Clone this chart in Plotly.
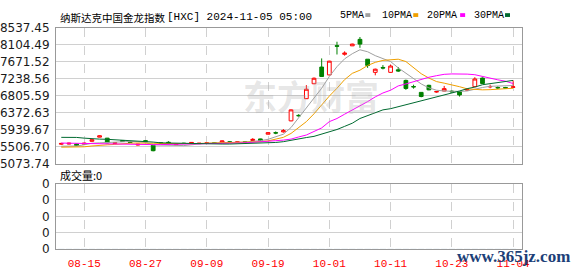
import plotly.graph_objects as go

# ---------------- data ----------------
dates = ["08-12", "08-13", "08-14", "08-15", "08-16", "08-19", "08-20", "08-21", "08-22", "08-23",
         "08-26", "08-27", "08-28", "08-29", "08-30", "09-03", "09-04", "09-05", "09-06", "09-09",
         "09-10", "09-11", "09-12", "09-13", "09-16", "09-17", "09-18", "09-19", "09-20", "09-23",
         "09-24", "09-25", "09-26", "09-27", "09-30", "10-01", "10-02", "10-03", "10-04", "10-07",
         "10-08", "10-09", "10-10", "10-11", "10-14", "10-15", "10-16", "10-17", "10-18", "10-21",
         "10-22", "10-23", "10-24", "10-25", "10-28", "10-29", "10-30", "10-31", "11-01", "11-04"]

opens = [5575, 5580, 5580, 5575, 5650, 5755, 5730, 5595, 5670, 5630,
         5555, 5665, 5550, 5610, 5625, 5560, 5600, 5600, 5590, 5600,
         5615, 5625, 5640, 5625, 5640, 5670, 5710, 5830, 5870, 5890,
         6170, 6310, 6735, 7115, 7540, 7340, 8085, 7865, 8080, 8245,
         7740, 7405, 7530, 7405, 7470, 7200, 7045, 6895, 7075, 6905,
         6930, 6925, 6915, 6955, 7040, 7260, 7035, 7020, 7020, 7025]
highs = [5610, 5615, 5590, 5610, 5695, 5800, 5735, 5625, 5680, 5640,
         5585, 5680, 5555, 5615, 5650, 5585, 5610, 5630, 5605, 5625,
         5630, 5670, 5655, 5640, 5650, 5730, 5715, 5875, 5900, 5960,
         6460, 6340, 7080, 7275, 7760, 7700, 8185, 7940, 8135, 8305,
         7745, 7500, 7590, 7600, 7540, 7220, 7090, 6900, 7090, 6930,
         7060, 6950, 6930, 7000, 7280, 7275, 7090, 7050, 7035, 7200]
lows = [5560, 5570, 5530, 5565, 5640, 5750, 5600, 5580, 5640, 5610,
        5545, 5645, 5395, 5595, 5610, 5550, 5590, 5590, 5585, 5590,
        5600, 5620, 5610, 5620, 5620, 5660, 5660, 5825, 5830, 5870,
        6160, 6280, 6730, 7105, 7290, 7330, 7860, 7830, 8075, 8030,
        7520, 7330, 7480, 7400, 7420, 6960, 6990, 6770, 6950, 6890,
        6925, 6890, 6790, 6945, 7035, 7110, 7000, 6980, 6995, 7020]
closes = [5595, 5600, 5540, 5600, 5690, 5790, 5610, 5615, 5645, 5620,
          5575, 5650, 5410, 5600, 5615, 5575, 5595, 5620, 5600, 5610,
          5605, 5660, 5620, 5635, 5625, 5700, 5665, 5870, 5860, 5920,
          6450, 6300, 6975, 7255, 7300, 7690, 8070, 7895, 8125, 8125,
          7580, 7485, 7515, 7565, 7440, 6995, 7035, 6790, 6960, 6915,
          6990, 6910, 6830, 6965, 7235, 7120, 7045, 7010, 7005, 7035]

ma5 = [5525, 5525, 5530, 5560, 5600, 5610, 5620, 5640, 5650, 5645,
       5640, 5620, 5560, 5550, 5550, 5545, 5540, 5560, 5590, 5600,
       5605, 5610, 5615, 5625, 5630, 5650, 5665, 5700, 5760, 5830,
       6000, 6250, 6480, 6720, 7000, 7300, 7550, 7750, 7880, 7980,
       7930, 7830, 7750, 7680, 7520, 7380, 7240, 7110, 7010, 6950,
       6930, 6920, 6920, 6930, 6980, 7020, 7050, 7055, 7060, 7070]
ma10 = [5500, 5500, 5505, 5510, 5530, 5550, 5560, 5570, 5590, 5600,
        5605, 5610, 5600, 5595, 5590, 5585, 5585, 5590, 5595, 5600,
        5600, 5600, 5605, 5610, 5615, 5625, 5640, 5660, 5700, 5750,
        5850, 5990, 6150, 6350, 6580, 6800, 7000, 7220, 7380, 7460,
        7580, 7660, 7710, 7730, 7740, 7680, 7520, 7370, 7260, 7170,
        7130, 7090, 7040, 6985, 6965, 6960, 6965, 6975, 6990, 7000]
ma20 = [5605, 5600, 5595, 5590, 5585, 5580, 5575, 5570, 5570, 5568,
        5566, 5565, 5565, 5566, 5568, 5570, 5572, 5575, 5580, 5585,
        5590, 5595, 5600, 5605, 5610, 5620, 5635, 5650, 5665, 5680,
        5705, 5760, 5810, 5900, 5990, 6150, 6230, 6340, 6440, 6560,
        6660, 6780, 6880, 6950, 7060, 7110, 7170, 7220, 7280, 7320,
        7355, 7365, 7365, 7360, 7345, 7300, 7250, 7215, 7180, 7120]
ma30 = [5750, 5750, 5748, 5730, 5710, 5705, 5700, 5690, 5675, 5670,
        5665, 5655, 5630, 5610, 5605, 5600, 5595, 5585, 5580, 5580,
        5580, 5580, 5580, 5585, 5595, 5605, 5610, 5615, 5620, 5640,
        5680, 5720, 5745, 5775, 5830, 5890, 5950, 6030, 6110, 6230,
        6300, 6390, 6450, 6480, 6530, 6570, 6630, 6680, 6730, 6775,
        6820, 6870, 6930, 6990, 7030, 7090, 7120, 7150, 7175, 7200]

volume = [0, 0, 0, 0, 0, 0, 0, 0, 0, 0, 0, 0, 0, 0, 0, 0, 0, 0, 0, 0,
          0, 0, 0, 0, 0, 0, 0, 0, 0, 0, 0, 0, 0, 0, 0, 0, 0, 0, 0, 0,
          0, 0, 0, 0, 0, 0, 0, 0, 0, 0, 0, 0, 0, 0, 0, 0, 0, 0, 0, 0]

price_ticks = [5073.74, 5506.70, 5939.67, 6372.63, 6805.59, 7238.56, 7671.52, 8104.49, 8537.45]
price_tick_text = ["5073.74", "5506.70", "5939.67", "6372.63", "6805.59", "7238.56", "7671.52", "8104.49", "8537.45"]
date_tick_labels = ["08-15", "08-27", "09-09", "09-19", "10-01", "10-11", "10-23", "11-04"]
vol_ticks = [0, 1, 2, 3, 4]
vol_tick_text = ["0", "0", "0", "0", "0"]

ma_names = ["5PMA", "10PMA", "20PMA", "30PMA"]
ma_colors = ["#a0a0a0", "#f0a000", "#ff00ff", "#006a30"]

# ---------------- figure ----------------
W, H = 578, 276
L, R = 55, 56
PW = W - L - R

def xp(px):
    return (px - L) / PW

def yp(py):
    return 1 - py / H

idx = list(range(len(dates)))
tick_idx = [dates.index(d) for d in date_tick_labels]

fig = go.Figure()

for name, vals, col in zip(ma_names, [ma5, ma10, ma20, ma30], ma_colors):
    fig.add_trace(go.Scatter(x=idx, y=vals, mode="lines", name=name,
                             line=dict(color=col, width=1), hoverinfo="skip",
                             xaxis="x", yaxis="y"))

fig.add_trace(go.Candlestick(
    x=idx, open=opens, high=highs, low=lows, close=closes,
    increasing=dict(line=dict(color="#ff0000", width=1), fillcolor="#ffffff"),
    decreasing=dict(line=dict(color="#008000", width=1), fillcolor="#008000"),
    whiskerwidth=0, xaxis="x", yaxis="y", name="K"))

fig.add_trace(go.Bar(x=idx, y=volume, xaxis="x2", yaxis="y2", marker_color="#ff0000"))

xr = [-0.69, 60.16]
grid = "#d0d0d0"
border = "#999999"
lab_font = dict(family="DejaVu Sans", size=12, color="#1a1a1a")

fig.update_layout(
    width=W, height=H, margin=dict(l=L, r=R, t=0, b=0),
    paper_bgcolor="white", plot_bgcolor="white", showlegend=False,
    xaxis=dict(domain=[0, 1], range=xr, anchor="y", tickvals=tick_idx, showticklabels=False,
               showgrid=True, gridcolor=grid, griddash="dash", gridwidth=1,
               showline=True, mirror=True, linecolor=border, linewidth=1,
               zeroline=False, ticks="", rangeslider=dict(visible=False), fixedrange=True),
    yaxis=dict(domain=[yp(165.3), yp(22)], range=[price_ticks[0], price_ticks[-1]],
               tickvals=price_ticks, ticktext=price_tick_text, tickfont=lab_font,
               showgrid=True, gridcolor=grid, gridwidth=1, showline=True, mirror=True,
               linecolor=border, linewidth=1, zeroline=False, ticks="", ticklabelstandoff=3),
    xaxis2=dict(domain=[0, 1], range=xr, anchor="y2", tickvals=tick_idx, ticktext=date_tick_labels,
                tickfont=dict(family="Liberation Mono", size=11, color="#ff0000"),
                showgrid=True, gridcolor=grid, griddash="dash", gridwidth=1,
                showline=True, mirror=True, linecolor=border, linewidth=1,
                zeroline=False, ticks="", ticklabelstandoff=4),
    yaxis2=dict(domain=[yp(255), yp(186)], range=[0, 4], tickvals=vol_ticks, ticktext=vol_tick_text,
                tickfont=lab_font, showgrid=True, gridcolor=grid, gridwidth=1,
                showline=True, mirror=True, linecolor=border, linewidth=1,
                zeroline=False, ticks="", ticklabelstandoff=3),
)

ann = []
# title
ann.append(dict(x=xp(57), y=yp(11), xref="paper", yref="paper", xanchor="left", yanchor="middle",
                text="纳斯达克中国金龙指数", showarrow=False,
                font=dict(family="Noto Sans CJK SC", size=10.5, color="#000")))
ann.append(dict(x=xp(164), y=yp(11), xref="paper", yref="paper", xanchor="left", yanchor="middle",
                text="[HXC] 2024-11-05 05:00", showarrow=False,
                font=dict(family="Liberation Mono", size=11, color="#000")))
# legend
leg_pos = [(338, 365), (380, 413), (425, 460), (472, 505)]
shapes = []
for (tx, sx), name, col in zip(leg_pos, ma_names, ma_colors):
    ann.append(dict(x=xp(tx), y=yp(9), xref="paper", yref="paper", xanchor="left", yanchor="middle",
                    text=name, showarrow=False,
                    font=dict(family="Liberation Mono", size=10, color="#000")))
    shapes.append(dict(type="rect", xref="paper", yref="paper", x0=xp(sx), x1=xp(sx + 5),
                       y0=yp(10.5), y1=yp(6.5), fillcolor=col, line=dict(width=0)))
# volume label
ann.append(dict(x=xp(57), y=yp(177), xref="paper", yref="paper", xanchor="left", yanchor="middle",
                text="成交量:0", showarrow=False,
                font=dict(family="Noto Sans CJK SC", size=11, color="#000")))
# watermarks
ann.append(dict(x=xp(240), y=yp(93), xref="paper", yref="paper", xanchor="left", yanchor="middle",
                text="<b>东方财富</b>", showarrow=False,
                font=dict(family="Noto Sans CJK SC", size=34, color="rgba(170,170,170,0.30)")))
ann.append(dict(x=xp(455), y=yp(263), xref="paper", yref="paper", xanchor="left", yanchor="middle",
                text="<b>www.365jz.com</b>", showarrow=False,
                font=dict(family="Liberation Serif", size=17, color="#1c3f78")))

fig.update_layout(annotations=ann, shapes=shapes)
fig.write_html("out.html")
